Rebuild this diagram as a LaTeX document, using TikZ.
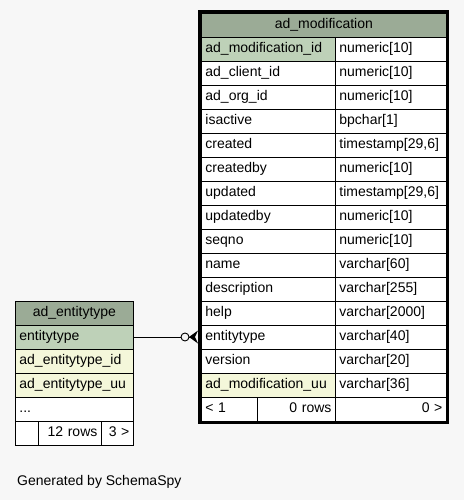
\documentclass[tikz,border=0pt]{standalone}
\usepackage{fontspec}
\setmainfont{Liberation Sans}
\definecolor{bgc}{HTML}{F7F7F7}
\definecolor{titlec}{HTML}{9BAB96}
\definecolor{pkc}{HTML}{BED1B8}
\definecolor{idxc}{HTML}{F4F7DA}
\tikzset{
  cell/.style={draw=black, line width=0.8pt, anchor=north west, minimum height=24pt, inner ysep=0pt, inner xsep=4pt, text height=10pt, text depth=3pt, font=\fontsize{14}{16}\selectfont},
  lcol/.style={cell, minimum width=134pt, text width=126pt, align=left},
  rcol/.style={cell, minimum width=111pt, text width=103pt, align=left},
  ecol/.style={cell, minimum width=118pt, text width=110pt, align=left},
  plain/.style={fill=white},
  pk/.style={fill=pkc},
  idx/.style={fill=idxc},
}
\begin{document}
\begin{tikzpicture}[x=1pt,y=-1pt]
\fill[bgc] (0,0) rectangle (464,500);
\useasboundingbox (0,0) rectangle (464,500);
% right table
\node[cell, fill=titlec, minimum width=245pt, text width=237pt, align=center] (mtitle) at (201,13) {ad\_modification};
\foreach \n/\t/\c [count=\i from 0] in {
  ad\_modification\_id/numeric[10]/pk,
  ad\_client\_id/numeric[10]/plain,
  ad\_org\_id/numeric[10]/plain,
  isactive/bpchar[1]/plain,
  created/{timestamp[29,6]}/plain,
  createdby/numeric[10]/plain,
  updated/{timestamp[29,6]}/plain,
  updatedby/numeric[10]/plain,
  seqno/numeric[10]/plain,
  name/varchar[60]/plain,
  description/varchar[255]/plain,
  help/varchar[2000]/plain,
  entitytype/varchar[40]/plain,
  version/varchar[20]/plain,
  ad\_modification\_uu/varchar[36]/idx}{
  \node[lcol, \c] (mk\i) at (201,37+24*\i) {\n};
  \node[rcol, plain] (mt\i) at (335,37+24*\i) {\t};
}
\node[cell, plain, minimum width=56pt, text width=48pt, align=left] (mf1) at (201,397) {< 1};
\node[cell, plain, minimum width=78pt, text width=70pt, align=right] (mf2) at (257,397) {0 rows};
\node[cell, plain, minimum width=111pt, text width=103pt, align=right] (mf3) at (335,397) {0 >};
\draw[line width=3pt] (199.5,11.5) rectangle (447.5,422.5);
% left table
\node[cell, fill=titlec, minimum width=118pt, text width=110pt, align=center] (etitle) at (15,301) {ad\_entitytype};
\node[ecol, pk] (le1) at (15,325) {entitytype};
\node[ecol, idx] (le2) at (15,349) {ad\_entitytype\_id};
\node[ecol, idx] (le3) at (15,373) {ad\_entitytype\_uu};
\node[ecol, plain] (le4) at (15,397) {...};
\node[cell, plain, minimum width=23pt, text width=15pt] (lf1) at (15,421) {};
\node[cell, plain, minimum width=63pt, text width=55pt, align=right] (lf2) at (38,421) {12 rows};
\node[cell, plain, minimum width=32pt, text width=24pt, align=right] (lf3) at (101,421) {3 >};
% connector
\node[circle, draw=black, line width=0.9pt, fill=bgc, minimum size=8pt, inner sep=0pt] (odot) at (185,337) {};
\coordinate (crowapex) at (189,337);
\draw[line width=0.9pt] (le1.east |- odot) -- (odot.west);
\draw[line width=0.9pt] (odot.east) -- (crowapex);
\fill[black] (crowapex) -- (198,330.5) -- (195,337) -- (198,343.5) -- cycle;
\node[anchor=base west, inner sep=0pt, font=\fontsize{14}{16}\selectfont] (gen) at (17,485) {Generated by SchemaSpy};
\end{tikzpicture}
\end{document}
